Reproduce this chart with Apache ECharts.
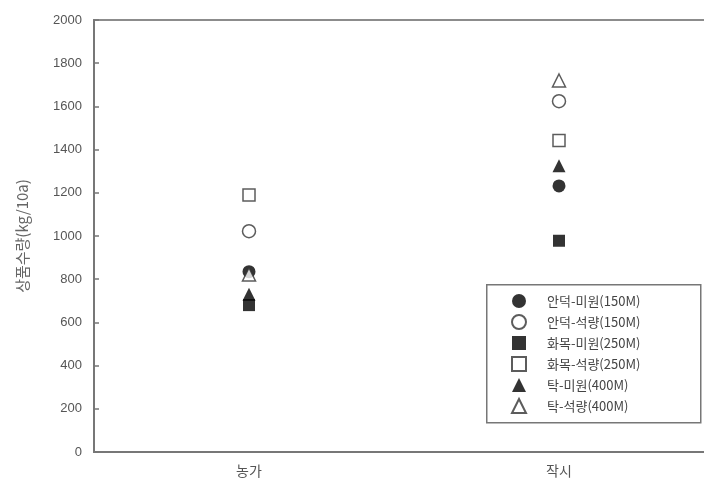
<!DOCTYPE html>
<html><head><meta charset="utf-8">
<script src="https://cdn.jsdelivr.net/npm/echarts@6/dist/echarts.min.js"></script>
<style>html,body{margin:0;padding:0;background:#fff}#c{width:704px;height:492px}</style>
</head><body><div id="c"></div>
<script>
const categories = ['농가', '작시'];
const seriesNames = ['안덕-미원(150M)', '안덕-석량(150M)', '화목-미원(250M)', '화목-석량(250M)', '탁-미원(400M)', '탁-석량(400M)'];
const s1 = [835, 1232];   // 안덕-미원 filled circle
const s2 = [1022, 1624];  // 안덕-석량 open circle
const s3 = [680, 978];    // 화목-미원 filled square
const s4 = [1190, 1442];  // 화목-석량 open square
const s5 = [730, 1325];   // 탁-미원 filled triangle
const s6 = [822, 1720];   // 탁-석량 open triangle
const yTicks = [0, 200, 400, 600, 800, 1000, 1200, 1400, 1600, 1800, 2000];

const seriesData = [s1, s2, s3, s4, s5, s6];
const symbols = ['circle', 'circle', 'rect', 'rect', 'triangle', 'triangle'];
const filled = [true, false, true, false, true, false];

const chart = echarts.init(document.getElementById('c'));
chart.setOption({
  animation: false,
  backgroundColor: '#fff',
  grid: { left: 94, width: 620, top: 20, bottom: 40, show: true, borderColor: '#8c8c8c', borderWidth: 2, outerBoundsMode: 'none', containLabel: false },
  xAxis: {
    type: 'category', data: categories, boundaryGap: true,
    axisLine: { lineStyle: { color: '#777', width: 2 } },
    axisTick: { show: false },
    axisLabel: { fontSize: 14, color: '#555', margin: 12, fontFamily: 'Noto Sans CJK KR' }
  },
  yAxis: {
    type: 'value', min: yTicks[0], max: yTicks[yTicks.length - 1], interval: 200,
    name: '상품수량(kg/10a)', nameLocation: 'middle', nameGap: 64,
    nameTextStyle: { fontSize: 15, color: '#666', fontFamily: 'Noto Sans CJK KR' },
    axisLine: { show: true, lineStyle: { color: '#777', width: 2 } },
    axisTick: { show: true, inside: true, length: 5, lineStyle: { color: '#777', width: 1.5 } },
    splitLine: { show: false },
    axisLabel: { fontSize: 13, color: '#555', margin: 12, fontFamily: 'Liberation Sans', formatter: v => String(v) }
  },
  legend: {
    orient: 'vertical', left: 511, top: 294, padding: 0, itemGap: 6, itemWidth: 14, itemHeight: 14,
    textStyle: { fontSize: 13, color: '#444', fontFamily: 'Noto Sans CJK KR', padding: [0, 0, 0, 16], lineHeight: 14 },
    data: seriesNames
  },
  graphic: [{
    type: 'rect', left: 486, top: 284, z: -1,
    shape: { width: 214, height: 138 },
    style: { fill: '#fff', stroke: '#777', lineWidth: 1.5 }
  }],
  series: seriesNames.map((n, i) => ({
    name: n, type: 'scatter', symbol: symbols[i],
    symbolSize: symbols[i] === 'rect' ? 12 : 13,
    data: seriesData[i],
    itemStyle: filled[i] ? { color: '#000' } : { color: '#fff', borderColor: '#333', borderWidth: 1.5 },
    z: filled[i] ? 2 : 3
  }))
});
</script></body></html>
